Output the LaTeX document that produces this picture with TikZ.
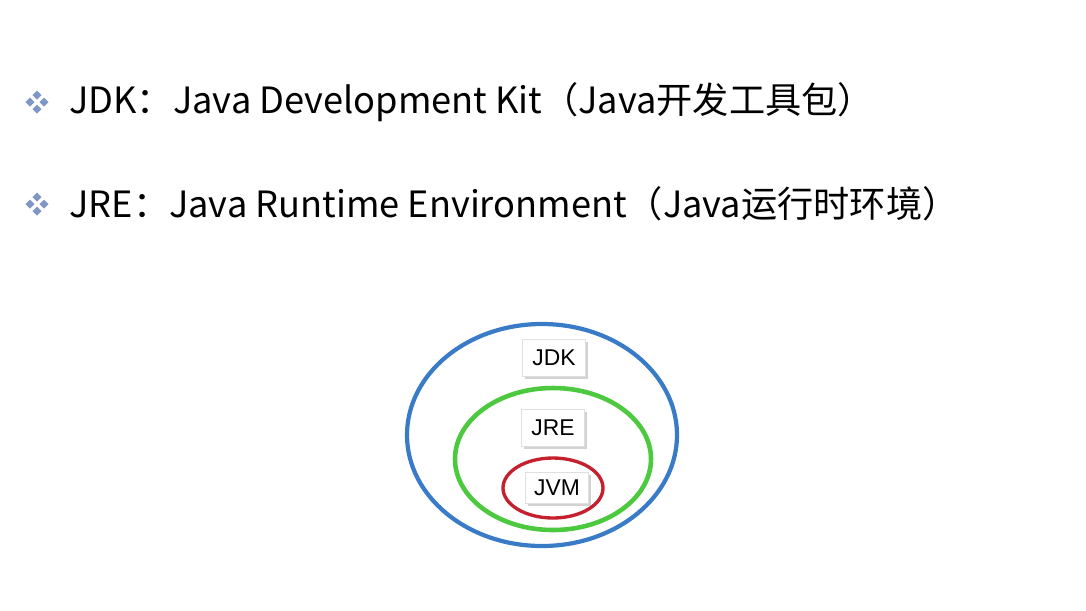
\documentclass[tikz,border=0pt]{standalone}
\usepackage{fontspec}
\setsansfont{Liberation Sans}
\newfontfamily\cjk{Noto Sans CJK SC}
\usetikzlibrary{shadows}
\definecolor{jdkblue}{HTML}{3A7BC8}
\definecolor{jregreen}{HTML}{4CC93E}
\definecolor{jvmred}{HTML}{C4202E}
\definecolor{bulletblue}{HTML}{7F97C4}
\tikzset{
  tag/.style={draw=gray!25, fill=white, drop shadow={opacity=0.35, shadow xshift=1.5pt, shadow yshift=-1.5pt},
    font=\sffamily\fontsize{13}{15}\selectfont, minimum width=36pt, minimum height=21pt, inner sep=2pt},
  headline/.style={anchor=west, font=\cjk\fontsize{20.6}{24}\selectfont, inner sep=0pt},
}
\begin{document}
\begin{tikzpicture}[x=0.02cm, y=-0.02cm]
  \useasboundingbox[fill=white] (0,0) rectangle (1086,610);

  % the two lines of text
  \foreach \y [count=\i] in {102, 204} {
    \begin{scope}[shift={(37,\y)}, fill=bulletblue]
      \foreach \dx/\dy in {0/-7, -7/0, 7/0, 0/7}
        \fill (\dx,\dy) ++(0,-4.5) -- ++(4.5,4.5) -- ++(-4.5,4.5) -- ++(-4.5,-4.5) -- cycle;
    \end{scope}
  }
  \node[headline] (jdkline) at (69,102) {JDK：Java Development Kit（Java开发工具包）};
  \node[headline] (jreline) at (69,204) {JRE：Java Runtime Environment（Java运行时环境）};

  % nested ellipses
  \draw[jdkblue, line width=2.4pt] (542,435) ellipse (135 and 111);
  \draw[jregreen, line width=2.6pt] (553,459) ellipse (98 and 71);
  \draw[jvmred, line width=1.9pt] (553,488) ellipse (50 and 30);

  \node[tag] (jdk) at (554,358) {JDK};
  \node[tag] (jre) at (553,428) {JRE};
  \node[tag, minimum height=18pt] (jvm) at (557,488) {JVM};
\end{tikzpicture}
\end{document}
